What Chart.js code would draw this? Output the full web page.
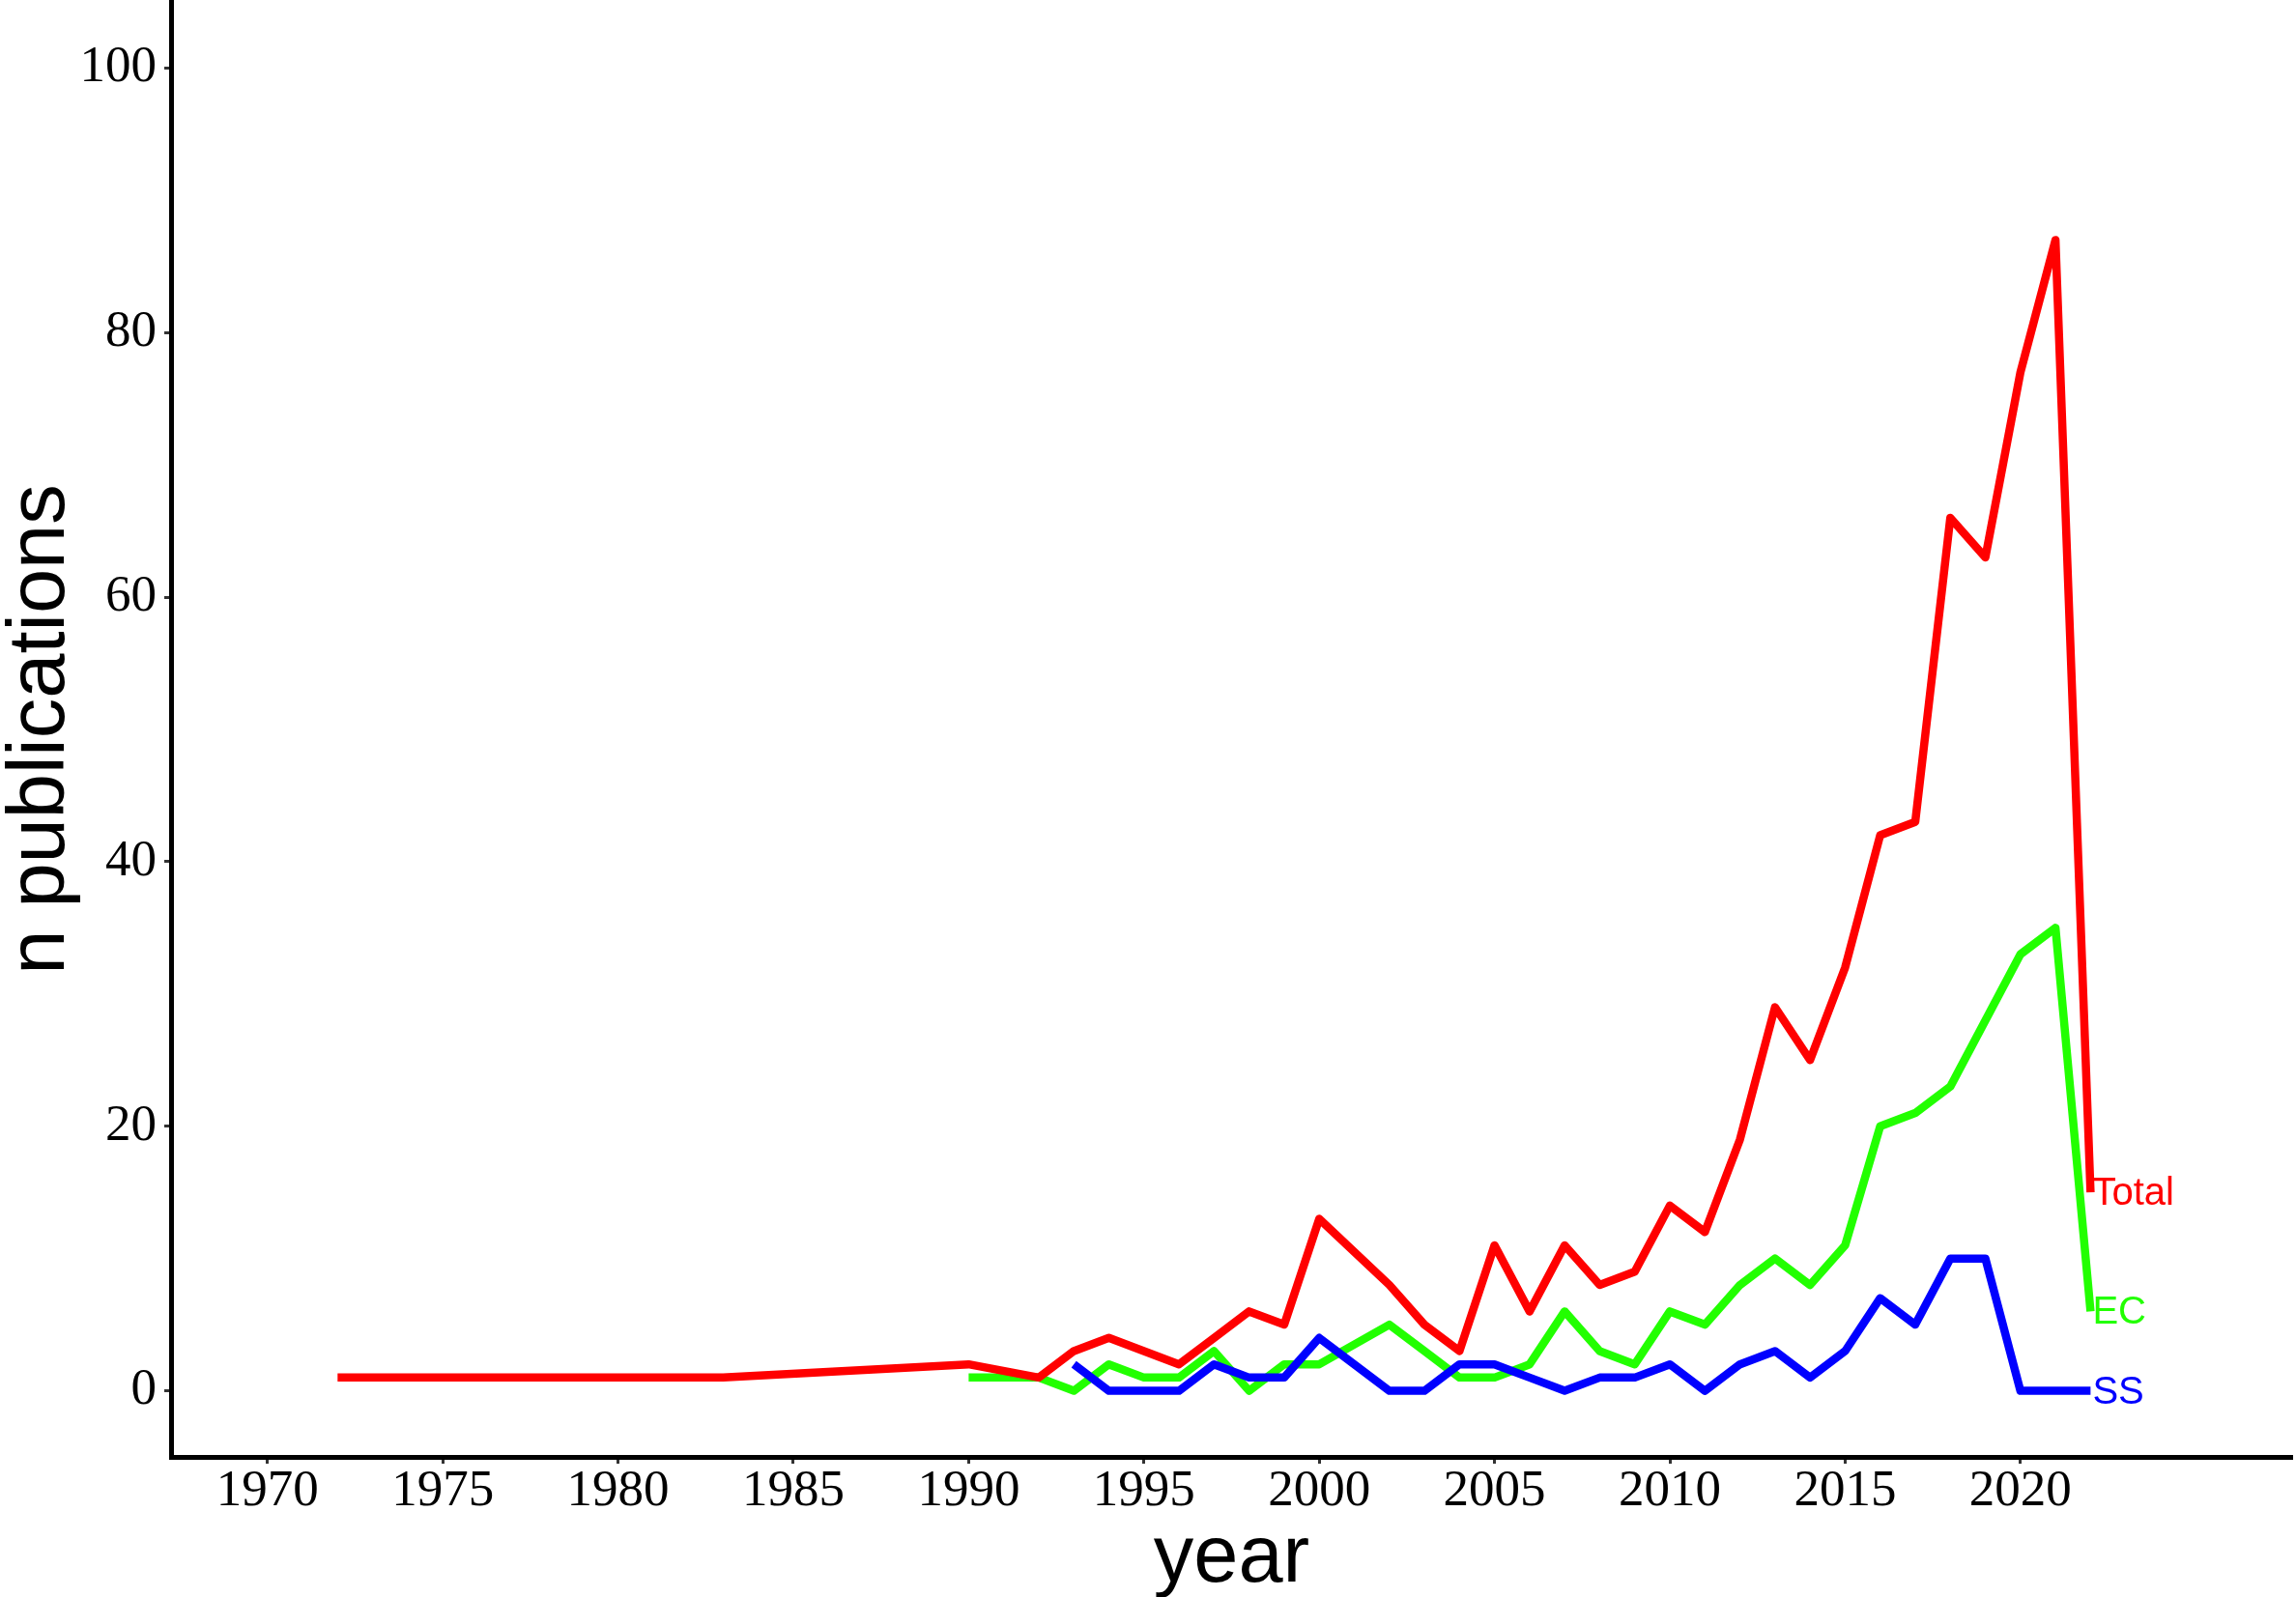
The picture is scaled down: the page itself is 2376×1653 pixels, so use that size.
<!DOCTYPE html>
<html>
<head>
<meta charset="utf-8">
<title>n publications per year</title>
<script src="https://cdn.jsdelivr.net/npm/chart.js@4/dist/chart.umd.min.js"></script>
<style>
    html, body { margin: 0; padding: 0; background: #fff; }
    #pubs-chart { display: block; }
</style>
</head>
<body>
<canvas id="pubs-chart" width="2376" height="1653"></canvas>
<script>
// Years with at least one publication (1991 and 2001 are absent in the data)
const years = [1972, 1983, 1990, 1992, 1993, 1994, 1995, 1996, 1997, 1998, 1999, 2000,
               2002, 2003, 2004, 2005, 2006, 2007, 2008, 2009, 2010, 2011, 2012, 2013,
               2014, 2015, 2016, 2017, 2018, 2019, 2020, 2021, 2022];

const totalPubs = [1, 1, 2, 1, 3, 4, 3, 2, 4, 6, 5, 13,
                   8, 5, 3, 11, 6, 11, 8, 9, 14, 12, 19, 29,
                   25, 32, 42, 43, 66, 63, 77, 87, 15];

const ecPubs = [null, null, 1, 1, 0, 2, 1, 1, 3, 0, 2, 2,
                5, 3, 1, 1, 2, 6, 3, 2, 6, 5, 8, 10,
                8, 11, 20, 21, 23, 28, 33, 35, 6];

const ssPubs = [null, null, null, null, 2, 0, 0, 0, 2, 1, 1, 4,
                0, 0, 2, 2, 1, 0, 1, 1, 2, 0, 2, 3,
                1, 3, 7, 5, 10, 10, 0, 0, 0];

const seriesNames = ['Total', 'SS', 'EC'];
const xTicks = [1970, 1975, 1980, 1985, 1990, 1995, 2000, 2005, 2010, 2015, 2020];
const yTicks = [0, 20, 40, 60, 80, 100];

const COLORS = {
    Total: '#ff0000',
    EC: '#22ff00',
    SS: '#0000ff'
};

function toPoints(values) {
    const pts = [];
    values.forEach((v, i) => {
        if (v !== null) pts.push({ x: years[i], y: v });
    });
    return pts;
}

function makeDataset(name, values) {
    return {
        label: name,
        data: toPoints(values),
        borderColor: COLORS[name],
        backgroundColor: COLORS[name],
        borderWidth: 8.5,
        borderCapStyle: 'butt',
        borderJoinStyle: 'round',
        pointRadius: 0,
        pointHoverRadius: 0,
        tension: 0,
        fill: false
    };
}

// Series name written just right of each line's last point
const endLabels = {
    id: 'endLabels',
    afterDatasetsDraw(chart) {
        const { ctx, scales: { x, y } } = chart;
        ctx.save();
        ctx.font = '40px "Liberation Sans", Arial, sans-serif';
        ctx.textAlign = 'left';
        ctx.textBaseline = 'middle';
        chart.data.datasets.forEach(ds => {
            const last = ds.data[ds.data.length - 1];
            ctx.fillStyle = ds.borderColor;
            ctx.fillText(ds.label, x.getPixelForValue(last.x) + 2, y.getPixelForValue(last.y) + 2);
        });
        ctx.restore();
    }
};

const tickFont = { family: '"Liberation Serif", "Times New Roman", serif', size: 53, lineHeight: 1 };
const titleFont = { family: '"Liberation Sans", Arial, sans-serif', size: 83, lineHeight: 0.7 };

new Chart(document.getElementById('pubs-chart').getContext('2d'), {
    type: 'line',
    data: {
        datasets: [
            makeDataset(seriesNames[0], totalPubs),
            makeDataset(seriesNames[1], ssPubs),
            makeDataset(seriesNames[2], ecPubs)
        ]
    },
    options: {
        responsive: false,
        animation: false,
        devicePixelRatio: 1,
        layout: { padding: { top: 2, right: 4, left: 0, bottom: 0 } },
        plugins: {
            legend: { display: false },
            tooltip: { enabled: false }
        },
        scales: {
            x: {
                type: 'linear',
                min: 1967.25,
                max: 2027.75,
                afterBuildTicks: scale => { scale.ticks = xTicks.map(v => ({ value: v })); },
                afterFit: scale => {
                    scale.height = 145;
                    scale.paddingLeft = 0;
                    scale.paddingRight = 0;
                },
                ticks: {
                    color: '#000',
                    font: tickFont,
                    padding: 3,
                    maxRotation: 0,
                    autoSkip: false,
                    callback: v => String(v)
                },
                grid: {
                    display: true,
                    drawOnChartArea: false,
                    drawTicks: true,
                    tickLength: 7,
                    tickWidth: 3,
                    tickColor: '#333'
                },
                border: { display: true, color: '#000', width: 5 },
                title: {
                    display: true,
                    text: 'year',
                    color: '#000',
                    font: titleFont,
                    padding: { top: 0, bottom: 10 }
                }
            },
            y: {
                type: 'linear',
                min: -5,
                max: 105,
                afterBuildTicks: scale => { scale.ticks = yTicks.map(v => ({ value: v })); },
                afterFit: scale => {
                    scale.width = 177;
                    scale.paddingTop = 0;
                    scale.paddingBottom = 0;
                },
                ticks: {
                    color: '#000',
                    font: tickFont,
                    padding: 8,
                    callback: v => String(v)
                },
                grid: {
                    display: true,
                    drawOnChartArea: false,
                    drawTicks: true,
                    tickLength: 7,
                    tickWidth: 3,
                    tickColor: '#333'
                },
                border: { display: true, color: '#000', width: 5 },
                title: {
                    display: true,
                    text: 'n publications',
                    color: '#000',
                    font: titleFont,
                    padding: { top: 14, bottom: 0 }
                }
            }
        }
    },
    plugins: [endLabels]
});
</script>
</body>
</html>
